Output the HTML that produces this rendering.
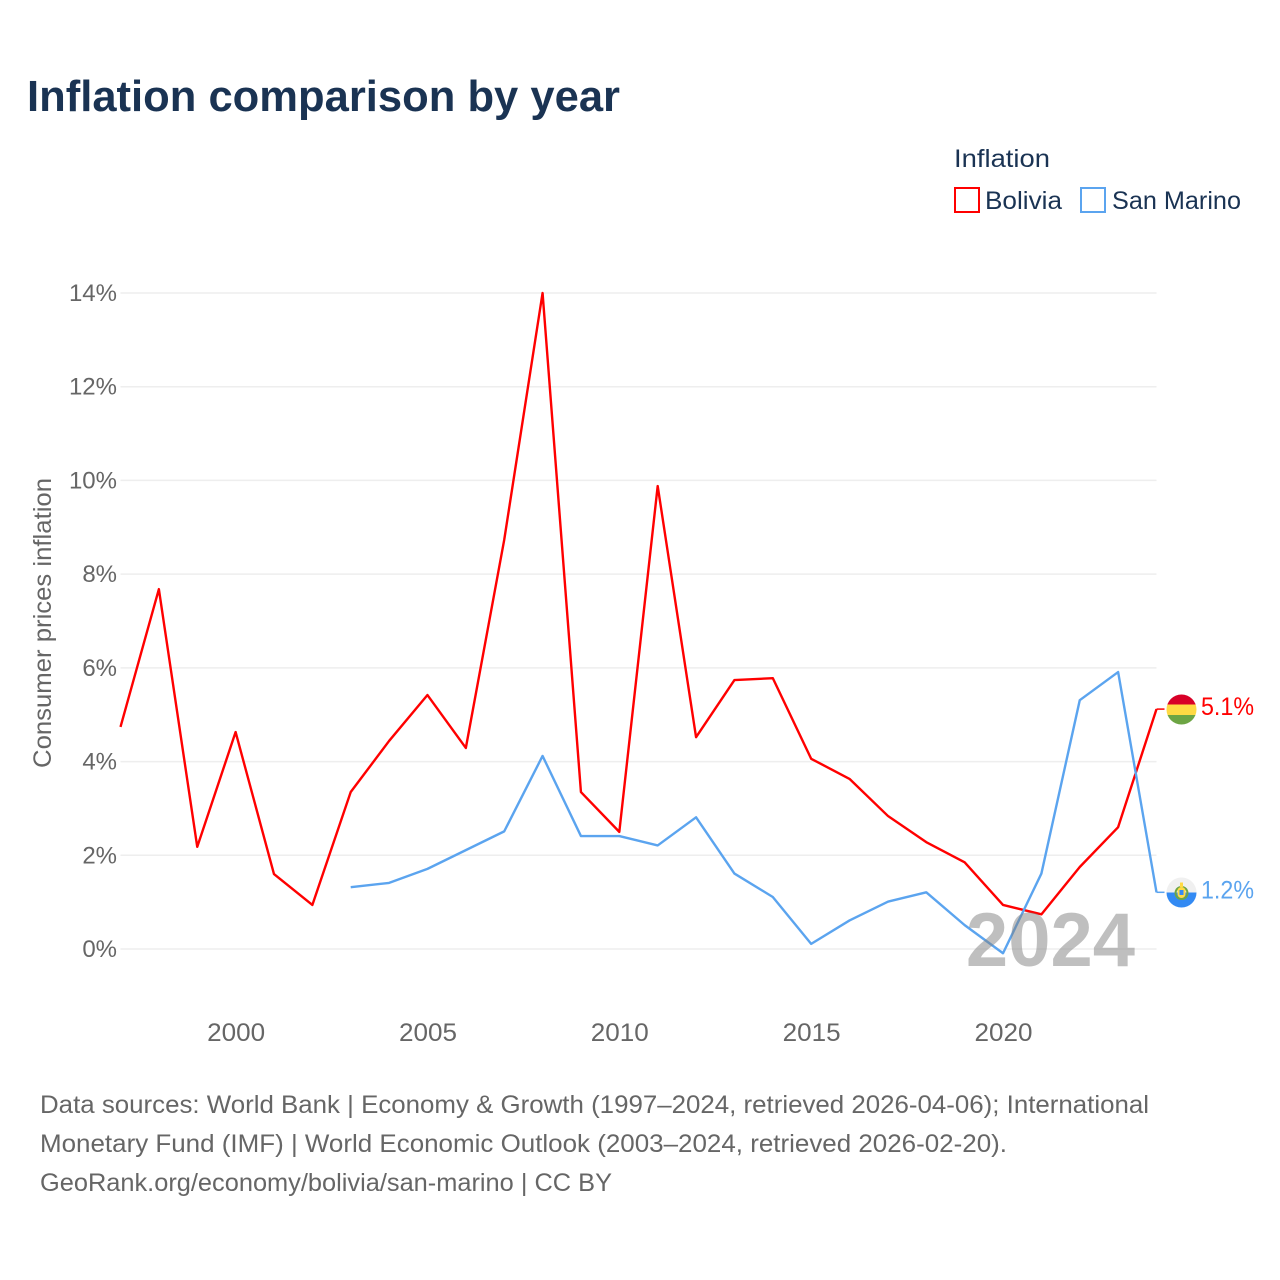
<!DOCTYPE html>
<html lang="en">
<head>
<meta charset="utf-8">
<title>Inflation comparison by year</title>
<style>
html,body{margin:0;padding:0;background:#fff}
svg{display:block}
text{font-family:"Liberation Sans",sans-serif}
</style>
</head>
<body>
<svg id="chart" xmlns="http://www.w3.org/2000/svg" width="1280" height="1280" viewBox="0 0 1280 1280">
  <rect width="1280" height="1280" fill="#fff"/>
  <text x="27" y="111" font-size="44" font-weight="700" fill="#1a3353" textLength="593" lengthAdjust="spacingAndGlyphs">Inflation comparison by year</text>

  <g>
    <text x="954" y="167" font-size="25" fill="#1a3353" textLength="96" lengthAdjust="spacingAndGlyphs">Inflation</text>
    <rect x="955" y="188" width="24" height="24" fill="none" stroke="#ff0000" stroke-width="2"/>
    <text x="985" y="209" font-size="25" fill="#1a3353" textLength="77" lengthAdjust="spacingAndGlyphs">Bolivia</text>
    <rect x="1081" y="188" width="24" height="24" fill="none" stroke="#5ba4ef" stroke-width="2"/>
    <text x="1112" y="209" font-size="25" fill="#1a3353" textLength="129" lengthAdjust="spacingAndGlyphs">San Marino</text>
  </g>

  <text transform="translate(51 623) rotate(-90)" text-anchor="middle" font-size="25" fill="#666" textLength="290" lengthAdjust="spacingAndGlyphs">Consumer prices inflation</text>

  <g id="grid"></g>
  <g id="yticks"></g>
  <g id="xticks"></g>
  <g id="series"></g>

  <defs>
    <clipPath id="clip-bo"><circle cx="1181.5" cy="709.5" r="15"/></clipPath>
    <clipPath id="clip-sm"><circle cx="1181.5" cy="892.5" r="15"/></clipPath>
  </defs>
  <g clip-path="url(#clip-bo)">
    <rect x="1166" y="694" width="31" height="10.5" fill="#d80027"/>
    <rect x="1166" y="704.5" width="31" height="10.5" fill="#ffda44"/>
    <rect x="1166" y="715" width="31" height="11" fill="#6da544"/>
  </g>
  <g clip-path="url(#clip-sm)">
    <rect x="1166" y="877" width="31" height="15.5" fill="#f0f0f0"/>
    <rect x="1166" y="892.5" width="31" height="16" fill="#338af3"/>
    <circle cx="1181.5" cy="893" r="6" fill="none" stroke="#6da544" stroke-width="2"/>
    <rect x="1177.5" y="887" width="8" height="11" rx="4" fill="#ffda44"/>
    <rect x="1179.5" y="890" width="4" height="5" fill="#338af3"/>
    <rect x="1180" y="882.5" width="3" height="4.5" fill="#ffda44"/>
  </g>

  <g font-size="25" fill="#666">
    <text x="40" y="1113" textLength="1109" lengthAdjust="spacingAndGlyphs">Data sources: World Bank | Economy &amp; Growth (1997–2024, retrieved 2026-04-06); International</text>
    <text x="40" y="1152" textLength="967" lengthAdjust="spacingAndGlyphs">Monetary Fund (IMF) | World Economic Outlook (2003–2024, retrieved 2026-02-20).</text>
    <text x="40" y="1191" textLength="572" lengthAdjust="spacingAndGlyphs">GeoRank.org/economy/bolivia/san-marino | CC BY</text>
  </g>
</svg>
<script>
var years = [1997,1998,1999,2000,2001,2002,2003,2004,2005,2006,2007,2008,2009,2010,2011,2012,2013,2014,2015,2016,2017,2018,2019,2020,2021,2022,2023,2024];
var boliviaValues = [4.74,7.68,2.18,4.63,1.60,0.94,3.35,4.44,5.42,4.29,8.73,14.0,3.35,2.50,9.88,4.52,5.74,5.78,4.06,3.63,2.84,2.28,1.85,0.94,0.74,1.75,2.60,5.12];
var sanMarinoValues = [null,null,null,null,null,null,1.32,1.41,1.71,2.11,2.51,4.12,2.41,2.41,2.21,2.81,1.61,1.11,0.11,0.61,1.01,1.21,0.51,-0.09,1.61,5.31,5.91,1.21];
var yTickValues = [0,2,4,6,8,10,12,14];
var xTickValues = [2000,2005,2010,2015,2020];
var boliviaLabel = '5.1%';
var sanMarinoLabel = '1.2%';
var yearLabel = '2024';

var NS = 'http://www.w3.org/2000/svg';
function xScale(year){ return 120.5 + (year - 1997) * (1156.5 - 120.5) / 27; }
function yScale(v){ return 949 - v * (949 - 293) / 14; }
function make(parent, tag, attrs, txt){
  var el = document.createElementNS(NS, tag);
  for (var k in attrs) el.setAttribute(k, attrs[k]);
  if (txt !== undefined) el.textContent = txt;
  parent.appendChild(el);
  return el;
}
var grid = document.getElementById('grid');
var yticks = document.getElementById('yticks');
var xticks = document.getElementById('xticks');
var series = document.getElementById('series');
var svg = document.getElementById('chart');

yTickValues.forEach(function(v){
  var line = make(grid, 'line', {x1:120.5, x2:1156.5, y1:yScale(v), y2:yScale(v), stroke:'#eeeeee', 'stroke-width':1.5});
  
  
  var label = make(yticks, 'text', {x:117, y:yScale(v)+8, 'text-anchor':'end', 'font-size':24, fill:'#666'}, v + '%');
  
  
});
xTickValues.forEach(function(v){
  var label = make(xticks, 'text', {x:xScale(v)+0.5, y:1041, 'text-anchor':'middle', 'font-size':25, fill:'#666', textLength:58, lengthAdjust:'spacingAndGlyphs'}, String(v));
  
  
});

function drawSeries(values, color, name, label, labelName){
  var cur = [];
  values.forEach(function(v, i){
    if (v === null) return;
    cur.push(xScale(years[i]).toFixed(2) + ',' + yScale(v).toFixed(2));
  });
  var lastIdx = values.length - 1;
  var ly = yScale(values[lastIdx]);
  var lx = xScale(years[lastIdx]);
  var poly = make(series, 'polyline', {points:cur.join(' '), fill:'none', stroke:color, 'stroke-width':2.4, 'stroke-linejoin':'round'});
  
  
  var conn = make(series, 'line', {x1:lx, x2:lx+8, y1:ly, y2:ly, stroke:color, 'stroke-width':1.5});
  
  
  var t = make(series, 'text', {x:1201, y:ly+6, 'font-size':25, fill:color, textLength:53, lengthAdjust:'spacingAndGlyphs'}, label);
  
  
}
drawSeries(boliviaValues, '#ff0000', 'line-bolivia', boliviaLabel, 'end-label-bolivia');
drawSeries(sanMarinoValues, '#5ba4ef', 'line-san-marino', sanMarinoLabel, 'end-label-san-marino');

var yr = make(svg, 'text', {x:1135, y:966, 'text-anchor':'end', 'font-size':76, 'font-weight':700, fill:'#808080', 'fill-opacity':0.5}, yearLabel);


</script>
</body>
</html>
